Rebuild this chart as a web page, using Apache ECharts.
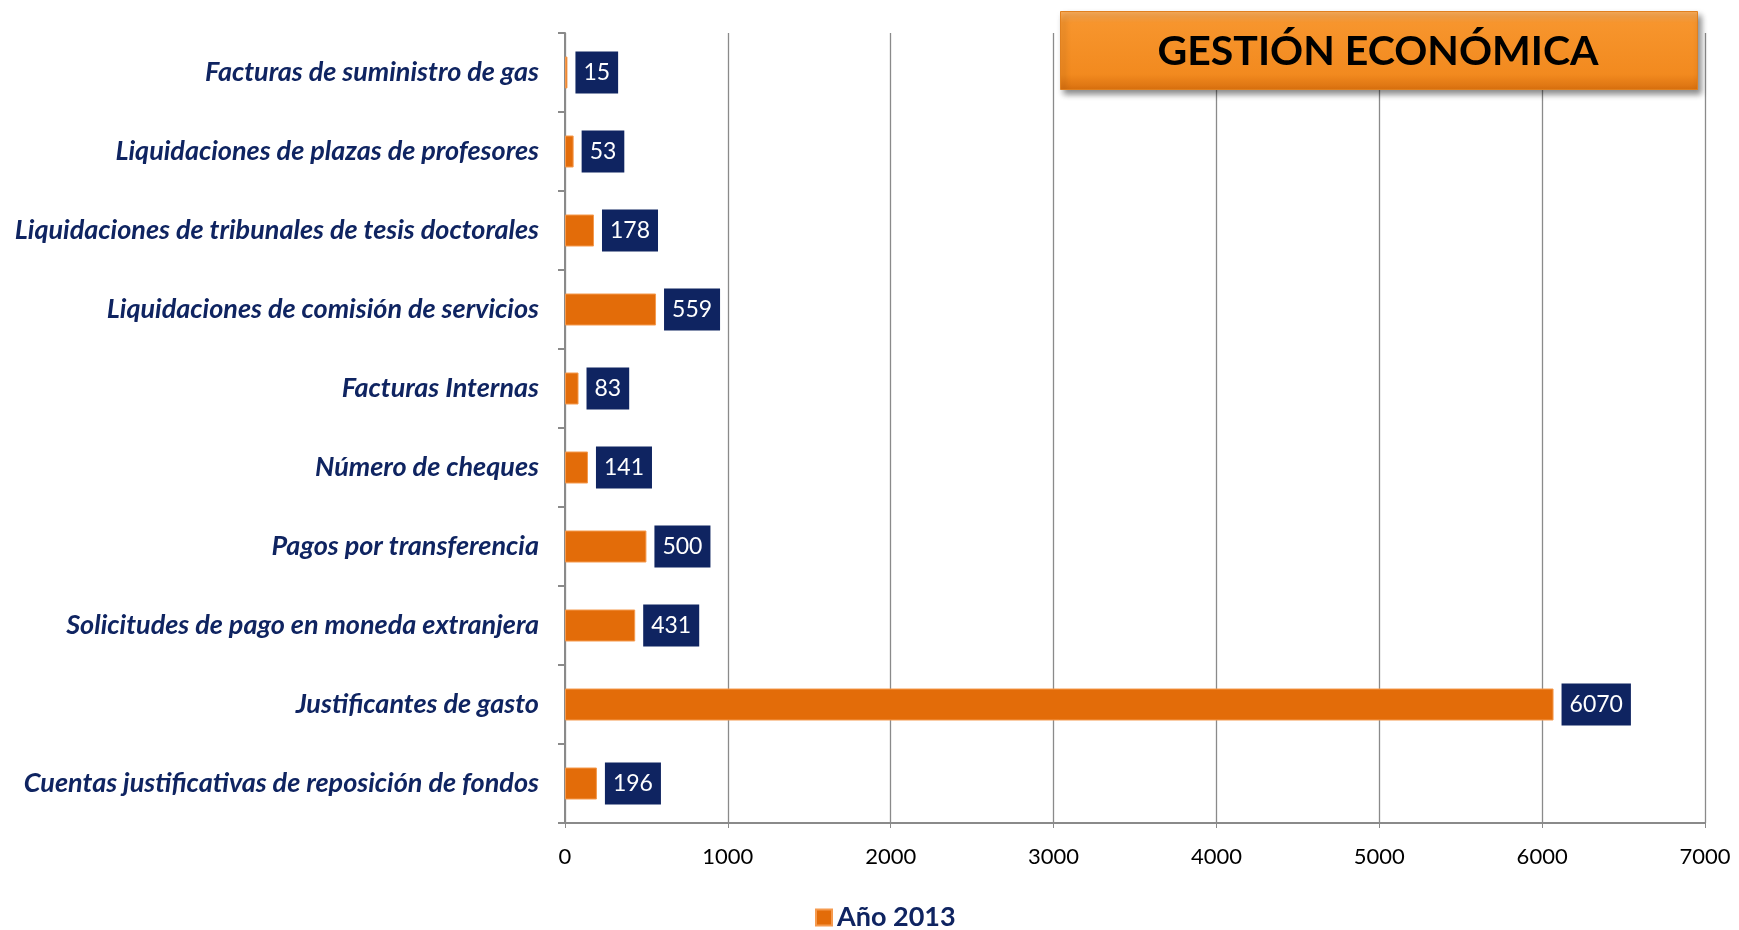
<!DOCTYPE html>
<html>
<head>
<meta charset="utf-8">
<script src="https://cdn.jsdelivr.net/npm/echarts@6/dist/echarts.min.js"></script>
<style>
  html, body { margin: 0; padding: 0; background: #fff; }
  #chart { width: 1739px; height: 930px; }
</style>
</head>
<body>
<div id="chart"></div>
<script>
// categorias de arriba a abajo
var categorias = [
    'Facturas de suministro de gas',
    'Liquidaciones de plazas de profesores',
    'Liquidaciones de tribunales de tesis doctorales',
    'Liquidaciones de comisión de servicios',
    'Facturas Internas',
    'Número de cheques',
    'Pagos por transferencia',
    'Solicitudes de pago en moneda extranjera',
    'Justificantes de gasto',
    'Cuentas justificativas de reposición de fondos'
]
var valores2013 = [15, 53, 178, 559, 83, 141, 500, 431, 6070, 196]
var nombreSerie = 'Año 2013'
var titulo = 'GESTIÓN ECONÓMICA'

var naranja = '#e36c09'
var azul = '#0f2461'
var gris = '#8a8a8a'

var option = {
    animation: false,
    textStyle: { fontFamily: 'Lato' },
    grid: { left: 565, right: 34, top: 33, bottom: 107 },
    legend: {
        data: [nombreSerie],
        left: 810,
        top: 899,
        itemWidth: 16,
        itemHeight: 16,
        itemGap: 8,
        icon: 'rect',
        textStyle: { color: azul, fontSize: 27, fontWeight: 'bold', fontFamily: 'Lato' }
    },
    xAxis: {
        type: 'value',
        min: 0,
        max: 7000,
        interval: 1000,
        axisLine: { show: true, lineStyle: { color: gris, width: 2 } },
        axisTick: { show: true, length: 5, lineStyle: { color: gris } },
        axisLabel: {
            color: '#000',
            fontSize: 22,
            margin: 23,
            fontFamily: 'Lato',
            formatter: function (v) { return String(v) }  // sin separador de miles
        },
        splitLine: { show: true, lineStyle: { color: gris, width: 1.3 } }
    },
    yAxis: {
        type: 'category',
        inverse: true,
        data: categorias,
        axisLine: { show: true, lineStyle: { color: gris, width: 2 } },
        axisTick: { show: true, length: 7, lineStyle: { color: gris, width: 2 } },
        axisLabel: {
            color: azul,
            fontSize: 27,
            fontWeight: 'bold',
            fontStyle: 'italic',
            margin: 26,
            fontFamily: 'Lato'
        }
    },
    graphic: [
        {
            type: 'rect',
            left: 1060,
            top: 11,
            z: 100,
            shape: { width: 637, height: 78 },
            style: {
                fill: new echarts.graphic.LinearGradient(0, 0, 0, 1, [
                    { offset: 0, color: '#fbae5c' },
                    { offset: 0.15, color: '#f7952d' },
                    { offset: 0.8, color: '#f28a1f' },
                    { offset: 1, color: '#d9700f' }
                ]),
                stroke: '#e0801f',
                lineWidth: 1,
                shadowBlur: 6,
                shadowOffsetX: 3,
                shadowOffsetY: 4,
                shadowColor: 'rgba(0,0,0,0.45)'
            }
        },
        {
            type: 'text',
            z: 101,
            x: 1378,
            y: 52,
            style: {
                text: titulo,
                fill: '#000',
                font: 'bold 41px Lato',
                align: 'center',
                verticalAlign: 'middle'
            }
        }
    ],
    series: [
        {
            name: nombreSerie,
            type: 'bar',
            barWidth: 32,
            itemStyle: { color: naranja, borderColor: '#f59a4e', borderWidth: 1 },
            label: {
                show: true,
                position: 'right',
                distance: 8,
                color: '#fff',
                fontSize: 23,
                fontFamily: 'Lato',
                backgroundColor: azul,
                padding: [9, 8, 9, 8],
                lineHeight: 24
            },
            data: valores2013
        }
    ]
}

echarts.init(document.getElementById('chart')).setOption(option)
</script>
</body>
</html>
